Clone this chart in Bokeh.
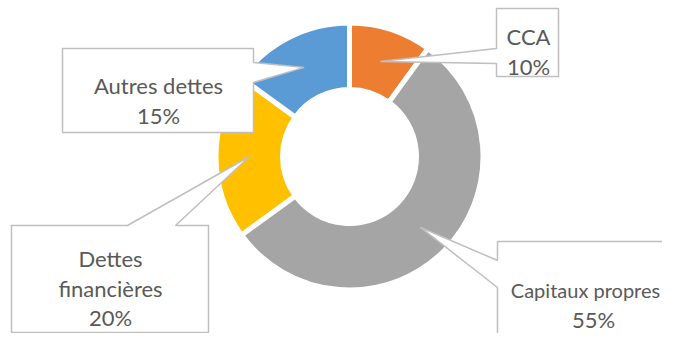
import math
from bokeh.plotting import figure
from bokeh.models import Range1d
from bokeh.core.properties import value
from bokeh.embed import file_html
from bokeh.resources import INLINE

# ---- data ----
categories = ["CCA", "Capitaux propres", "Dettes financières", "Autres dettes"]
shares = [10, 55, 20, 15]
colors = ["#ED7D31", "#A5A5A5", "#FFC000", "#5B9BD5"]
name_lines = [["CCA"], ["Capitaux propres"], ["Dettes", "financières"], ["Autres dettes"]]

# ---- layout (reference pixel coords, y downwards) ----
W, H = 678, 349
PW, PH = W - 16, H - 16
def Y(y):
    return H - y

CX, CY = 349, 156
R_OUT, R_IN, GAP = 131, 69.5, 5
R_TIP = 100
FONT = "Lato"
LINE_H = 29.5

# box: x0, y0, x1, y1, notch side, notch a, notch b, text center x, first baseline, name font size, name x shift
boxes = [
    (496, 8, 558, 76, "left", 48, 63, 528, 36, 22, 0),
    (497, 241, 720, 400, "left", 260, 287, 593, 289, 20, -8),
    (11, 225, 208, 332, "top", 127, 175, 110, 258, 22, 0),
    (62, 48, 253, 132, "right", 62, 82, 158, 85, 22, 0),
]

p = figure(width=PW, height=PH, output_backend="svg", toolbar_location=None,
           x_range=Range1d(0, PW), y_range=Range1d(H - PH, H),
           x_axis_location=None, y_axis_location=None, min_border=0)
p.xgrid.visible = False
p.ygrid.visible = False
p.outline_line_color = None
p.background_fill_color = "white"
p.border_fill_color = "white"

total = sum(shares)
starts, ends = [], []
cum = 0
for s in shares:
    starts.append(math.pi / 2 - 2 * math.pi * cum / total)
    cum += s
    ends.append(math.pi / 2 - 2 * math.pi * cum / total)

p.annular_wedge(x=[CX] * len(shares), y=[Y(CY)] * len(shares),
                inner_radius=R_IN - GAP / 2, outer_radius=R_OUT + GAP / 2,
                start_angle=starts, end_angle=ends, direction="clock",
                fill_color=colors, line_color="white", line_width=GAP)

xs_all, ys_all = [], []
tx, ty, tt, tfs = [], [], [], []
for i, (x0, y0, x1, y1, side, a, b, tcx, tby, nfs, nshift) in enumerate(boxes):
    mid = (starts[i] + ends[i]) / 2
    tipx = CX + R_TIP * math.cos(mid)
    tipy = Y(CY) + R_TIP * math.sin(mid)
    if side == "left":
        pts = [(x0, Y(y0)), (x1, Y(y0)), (x1, Y(y1)), (x0, Y(y1)), (x0, Y(b)), (tipx, tipy), (x0, Y(a))]
    elif side == "right":
        pts = [(x0, Y(y0)), (x1, Y(y0)), (x1, Y(a)), (tipx, tipy), (x1, Y(b)), (x1, Y(y1)), (x0, Y(y1))]
    else:  # top
        pts = [(x0, Y(y0)), (a, Y(y0)), (tipx, tipy), (b, Y(y0)), (x1, Y(y0)), (x1, Y(y1)), (x0, Y(y1))]
    xs_all.append([q[0] for q in pts])
    ys_all.append([q[1] for q in pts])
    lines = name_lines[i] + [f"{shares[i]}%"]
    for k, ln in enumerate(lines):
        is_name = k < len(name_lines[i])
        tx.append(tcx + (nshift if is_name else 0))
        ty.append(Y(tby + k * LINE_H))
        tt.append(ln)
        tfs.append(f"{nfs if is_name else 22}px")

p.patches(xs=xs_all, ys=ys_all, fill_color="white", line_color="#BFBFBF", line_width=1.5)
p.text(x=tx, y=ty, text=tt, text_font=value(FONT), text_font_size=tfs,
       text_color="#595959", text_align="center", text_baseline="alphabetic")

open("out.html", "w").write(file_html(p, INLINE))
